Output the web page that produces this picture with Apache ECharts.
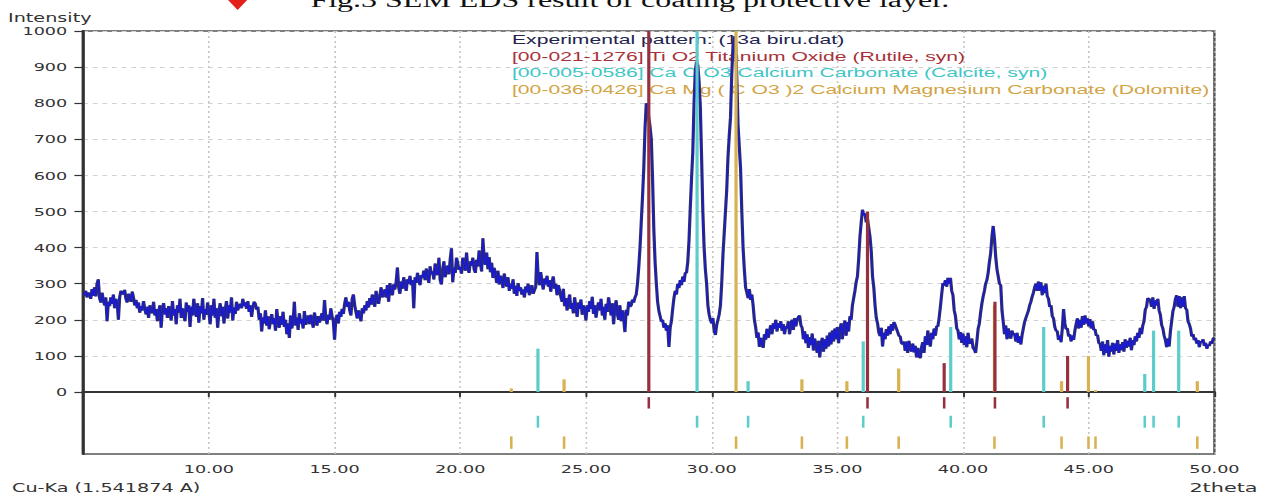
<!DOCTYPE html>
<html>
<head>
<meta charset="utf-8">
<script src="https://cdn.jsdelivr.net/npm/echarts@6/dist/echarts.min.js"></script>
<style>
  html, body { margin: 0; padding: 0; background: #fff; overflow: hidden; }
  /* the source picture is stretched sideways, so the chart is drawn narrow and widened */
  #chart { width: 790px; height: 495px; transform: scaleX(1.6); transform-origin: 0 0; }
</style>
</head>
<body>
<div id="chart"></div>
<script>
// measured pattern, one value every 0.05 deg 2theta starting at 5.00
const startAngle = 5;
const stepAngle = 0.05;
const intensity = [
  272,268,280,262,275,270,258,285,266,290, // 5.0
  265,300,312,260,248,275,255,240,262,196,
  250,238,262,244,270,232,258,248,200,262, // 6.0
  280,276,270,283,258,248,272,266,250,278,
  262,240,255,232,248,220,238,226,252,230, // 7.0
  215,236,205,240,226,218,250,212,230,196,
  222,240,178,228,246,215,232,205,238,220, // 8.0
  198,252,212,230,188,240,220,258,205,232,
  214,196,248,222,240,180,236,212,258,226, // 9.0
  208,246,192,238,218,260,200,230,214,248,
  222,188,240,212,258,206,232,178,224,246, // 10.0
  210,236,190,228,252,204,240,220,262,198,
  234,216,250,226,240,244,232,258,238,248, // 11.0
  230,252,222,240,208,236,250,244,228,236,
  200,218,168,206,190,226,184,210,174,198, // 12.0
  216,188,204,170,230,194,178,210,186,222,
  180,200,160,190,150,212,176,196,250,184, // 13.0
  206,172,218,190,202,176,224,186,200,212,
  188,214,196,178,220,200,184,210,192,206, // 14.0
  218,198,255,206,188,214,200,232,210,196,
  145,202,214,190,222,208,230,216,244,262, // 15.0
  236,250,226,212,258,270,240,222,204,226,
  212,196,232,218,240,226,252,234,260,242, // 16.0
  270,252,236,280,258,244,266,290,262,276,
  284,262,296,250,302,278,268,298,284,306, // 17.0
  345,290,272,306,286,318,294,280,312,300,
  322,296,310,232,318,302,330,308,296,324, // 18.0
  316,336,310,342,320,302,348,326,334,312,
  356,330,324,372,310,298,340,362,318,336, // 19.0
  350,326,368,398,304,344,330,372,356,338,
  346,328,372,354,336,386,342,330,362,350, // 20.0
  372,340,330,366,348,392,358,334,426,370,
  352,386,340,374,332,358,316,344,326,302, // 21.0
  336,298,322,310,288,328,304,292,318,280,
  300,286,312,272,294,266,302,280,290,270, // 22.0
  284,262,292,276,300,268,288,296,272,282,
  290,388,318,296,332,306,284,314,298,322, // 23.0
  292,310,278,304,320,286,300,268,296,282,
  264,250,286,238,260,226,252,270,230,246, // 24.0
  218,262,234,208,248,230,256,214,240,226,
  198,240,222,252,230,264,216,240,206,232, // 25.0
  248,226,258,212,236,200,244,222,262,238,
  212,246,188,232,254,216,200,240,196,226, // 26.0
  204,166,228,212,250,236,240,256,248,262,
  270,300,345,400,470,540,620,730,800,790, // 27.0
  760,735,700,590,450,360,300,250,225,210,
  195,200,178,190,170,185,125,178,196,230, // 28.0
  260,280,270,300,288,310,296,320,305,330,
  330,360,420,510,590,665,800,890,915,905, // 29.0
  860,790,650,500,400,340,300,240,215,200,
  190,205,170,158,185,200,215,240,300,380, // 30.0
  440,500,560,650,710,760,880,960,985,975,
  870,740,680,620,500,400,340,290,275,260, // 31.0
  285,255,270,240,200,180,150,165,125,150,
  135,122,160,145,175,150,168,185,160,190, // 32.0
  175,200,168,190,178,196,170,188,160,182,
  176,196,160,188,200,172,205,182,200,208, // 33.0
  212,185,178,146,168,135,160,122,152,130,
  162,115,148,128,108,142,96,134,150,112,  // 34.0
  146,120,156,126,165,132,170,140,176,146,
  180,135,170,190,146,182,198,156,194,168, // 35.0
  210,200,240,260,280,305,320,370,430,470,
  505,490,495,470,480,455,430,390,320,290, // 36.0
  240,205,190,165,155,178,126,164,146,174,
  156,182,160,188,170,194,186,176,166,156, // 37.0
  154,136,132,140,114,140,108,142,120,112,
  134,110,128,96,122,100,94,124,138,108,   // 38.0
  154,130,170,140,126,164,146,176,156,182,
  182,205,236,270,302,295,310,292,316,300, // 39.0
  316,280,268,226,210,176,170,146,166,136,
  162,130,154,124,164,136,134,148,122,118, // 40.0
  108,140,175,190,220,245,264,280,300,310,
  330,360,385,430,460,425,375,340,320,300, // 41.0
  296,226,194,160,184,146,176,156,148,170,
  158,162,140,164,136,154,132,158,176,194, // 42.0
  205,215,225,240,250,264,275,290,300,280,
  306,280,304,268,294,274,300,266,258,236, // 43.0
  240,210,204,180,170,168,144,156,138,176,
  230,190,174,176,154,160,140,156,144,170, // 44.0
  188,204,176,200,178,210,186,212,190,204,
  182,202,176,196,172,174,156,158,136,134, // 45.0
  114,140,102,132,108,144,98,128,112,136,
  104,134,114,144,108,132,116,138,112,146, // 46.0
  122,142,126,150,116,144,130,154,140,164,
  150,178,160,184,196,228,236,260,258,254, // 47.0
  236,262,230,254,240,258,226,214,186,176,
  156,144,124,148,126,168,196,224,236,258, // 48.0
  268,236,266,232,262,236,266,232,228,196,
  188,176,154,160,144,150,134,144,124,140, // 49.0
  138,146,128,136,120,130,128,140,134,148,
  150                                      // 50.0
];

// reference patterns: peak positions (2theta) and relative heights
const rutileAngles = [27.50, 36.20, 39.25, 41.27, 44.16];
const rutileHeights = [1000, 500, 80, 250, 100];
const calciteAngles = [23.09, 29.42, 31.45, 36.03, 39.51, 43.21, 47.23, 47.58, 48.58];
const calciteHeights = [120, 1000, 30, 140, 180, 180, 50, 170, 170];
const dolomiteAngles = [22.03, 24.13, 30.97, 33.59, 35.38, 37.44, 41.25, 43.92, 44.99, 45.27, 49.32];
const dolomiteHeights = [10, 35, 1000, 35, 30, 65, 240, 30, 100, 5, 30];

const legendLines = [
  'Experimental pattern: (13a biru.dat)',
  '[00-021-1276] Ti O2 Titanium Oxide (Rutile, syn)',
  '[00-005-0586] Ca C O3 Calcium Carbonate (Calcite, syn)',
  '[00-036-0426] Ca Mg ( C O3 )2 Calcium Magnesium Carbonate (Dolomite)'
];
const legendColors = ['#23234e', '#a8323a', '#3fc6c6', '#d2a444'];

const captionText = 'Fig.3 SEM EDS result of coating protective layer.';

const rutileColor = '#96303e';
const calciteColor = '#5ccccc';
const dolomiteColor = '#d6b252';

const pattern = intensity.map((v, i) => [+(startAngle + i * stepAngle).toFixed(2), v]);
const pairs = (a, h) => a.map((x, i) => [x, h[i]]);

// lower strip: each phase gets one row of tick marks
const rowSpans = [[0.5, 1.6], [2.3, 3.45], [4.3, 5.5]];

const stick = (color) => (params, api) => {
  const a = api.coord([api.value(0), 0]);
  const b = api.coord([api.value(0), api.value(1)]);
  return { type: 'line', shape: { x1: a[0], y1: a[1], x2: b[0], y2: b[1] }, style: { stroke: color, lineWidth: 2 } };
};
const rowTick = (color, row) => (params, api) => {
  const a = api.coord([api.value(0), rowSpans[row][0]]);
  const b = api.coord([api.value(0), rowSpans[row][1]]);
  return { type: 'line', shape: { x1: a[0], y1: a[1], x2: b[0], y2: b[1] }, style: { stroke: color, lineWidth: 1.6 } };
};

const labelFont = { fontFamily: 'DejaVu Sans', fontSize: 11, color: '#333' };
const vSplit = { show: true, lineStyle: { color: '#c6c6c6', type: [2, 3], width: 1 } };

const chart = echarts.init(document.getElementById('chart'), null, { renderer: 'svg' });

chart.setOption({
  animation: false,
  backgroundColor: '#fff',
  grid: [
    { left: 52, right: 31, top: 31, height: 361, show: true, borderColor: '#555', borderWidth: 1.5 },
    { left: 52, right: 31, top: 392, height: 62, show: true, borderColor: '#555', borderWidth: 1.5 }
  ],
  xAxis: [
    {
      gridIndex: 0, type: 'value', min: 5, max: 50, interval: 5,
      axisLine: { lineStyle: { color: '#444', width: 1.5 } },
      axisTick: { show: false }, axisLabel: { show: false },
      splitLine: vSplit
    },
    {
      gridIndex: 1, type: 'value', min: 5, max: 50, interval: 5,
      axisLine: { lineStyle: { color: '#333', width: 2 } },
      axisTick: { length: 5, lineStyle: { color: '#333', width: 1.2 } },
      axisLabel: Object.assign({ margin: 9, showMinLabel: false, formatter: (v) => v.toFixed(2) }, labelFont),
      splitLine: vSplit
    }
  ],
  yAxis: [
    {
      gridIndex: 0, type: 'value', min: 0, max: 1000, interval: 100,
      axisLine: { show: true, lineStyle: { color: '#333', width: 2 } },
      axisTick: { show: true, length: 5.5, lineStyle: { color: '#333', width: 1.2 } },
      axisLabel: Object.assign({ margin: 10, formatter: (v) => String(v) }, labelFont),
      splitLine: { show: true, lineStyle: { color: '#d2d2d2', type: [3, 3], width: 1 } }
    },
    {
      gridIndex: 1, type: 'value', min: 0, max: 6, inverse: true,
      axisLine: { show: true, lineStyle: { color: '#333', width: 2 } },
      axisTick: { show: false }, axisLabel: { show: false }, splitLine: { show: false }
    }
  ],
  series: [
    {
      name: 'Experimental pattern', type: 'line', data: pattern, showSymbol: false, silent: true, z: 2,
      lineStyle: { color: '#34345a', width: 2 }
    },
    {
      name: 'Experimental pattern blue', type: 'line', data: pattern, showSymbol: false, silent: true, z: 2,
      lineStyle: { color: '#1a1ad0', width: 0.9 }
    },
    { type: 'custom', name: 'Calcite', data: pairs(calciteAngles, calciteHeights), renderItem: stick(calciteColor), z: 3, silent: true },
    { type: 'custom', name: 'Dolomite', data: pairs(dolomiteAngles, dolomiteHeights), renderItem: stick(dolomiteColor), z: 3, silent: true },
    { type: 'custom', name: 'Rutile', data: pairs(rutileAngles, rutileHeights), renderItem: stick(rutileColor), z: 3, silent: true },
    { type: 'custom', xAxisIndex: 1, yAxisIndex: 1, data: rutileAngles.map((x) => [x, 0]), renderItem: rowTick(rutileColor, 0), silent: true },
    { type: 'custom', xAxisIndex: 1, yAxisIndex: 1, data: calciteAngles.map((x) => [x, 1]), renderItem: rowTick(calciteColor, 1), silent: true },
    { type: 'custom', xAxisIndex: 1, yAxisIndex: 1, data: dolomiteAngles.map((x) => [x, 2]), renderItem: rowTick(dolomiteColor, 2), silent: true }
  ],
  graphic: [
    { type: 'text', x: 194, y: 0, z: 1, style: { text: captionText, font: '20px "Liberation Serif"', fill: '#111', verticalAlign: 'middle' } },
    { type: 'polygon', x: 148.5, y: 0, z: 1, shape: { points: [[0, -10], [6, 0], [0, 10], [-6, 0]] }, style: { fill: '#e3201b' } },
    { type: 'text', x: 5, y: 17.5, z: 1, style: { text: 'Intensity', font: '12px "DejaVu Sans"', fill: '#333', verticalAlign: 'middle' } },
    { type: 'text', x: 7.5, y: 488, z: 1, style: { text: 'Cu-Ka (1.541874 A)', font: '12px "DejaVu Sans"', fill: '#333', verticalAlign: 'middle' } },
    { type: 'text', x: 786, y: 488, z: 1, style: { text: '2theta', font: '13px "DejaVu Sans"', fill: '#333', align: 'right', verticalAlign: 'middle' } }
  ].concat(legendLines.map((t, i) => ({
    type: 'text', x: 320, y: [40, 57, 73, 90][i], z: 1,
    style: { text: t, font: '13.2px "Liberation Sans"', fill: legendColors[i], verticalAlign: 'middle' }
  })))
});
</script>
</body>
</html>
